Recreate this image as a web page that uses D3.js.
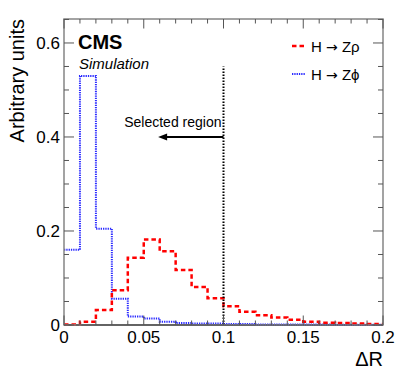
<!DOCTYPE html>
<html>
<head>
<meta charset="utf-8">
<script src="https://cdn.jsdelivr.net/npm/d3@7"></script>
<style>
  body { margin: 0; background: #fff; }
  text { font-family: "Liberation Sans", Arial, Helvetica, sans-serif; }
</style>
</head>
<body>
<svg id="chart"></svg>
<script>
// bin low edges (width 0.01) and normalised contents
var binLow = [0, 0.01, 0.02, 0.03, 0.04, 0.05, 0.06, 0.07, 0.08, 0.09,
              0.10, 0.11, 0.12, 0.13, 0.14, 0.15, 0.16, 0.17, 0.18, 0.19];
var binWidth = 0.01;
var zRho = [0.001, 0.007, 0.032, 0.074, 0.143, 0.182, 0.157, 0.117, 0.081, 0.057,
            0.040, 0.028, 0.021, 0.016, 0.011, 0.007, 0.005, 0.004, 0.003, 0.002];
var zPhi = [0.160, 0.530, 0.205, 0.056, 0.018, 0.014, 0.007, 0.004, 0.003, 0.003,
            0.002, 0.002, 0.001, 0.001, 0.001, 0.001, 0.001, 0.0005, 0.0005, 0.0005];
var xMajor = [0, 0.05, 0.1, 0.15, 0.2];
var xMajorLabels = ["0", "0.05", "0.1", "0.15", "0.2"];
var yMajor = [0, 0.2, 0.4, 0.6];
var yMajorLabels = ["0", "0.2", "0.4", "0.6"];
var cutValue = 0.1;
var cutTop = 0.55;
var arrowY = 0.4;
var arrowTip = 0.059;

var width = 399, height = 383;
var margin = {left: 64, right: 16, top: 19, bottom: 58};
var w = width - margin.left - margin.right;
var h = height - margin.top - margin.bottom;

var x = d3.scaleLinear().domain([0, 0.2]).range([0, w]);
var y = d3.scaleLinear().domain([0, 0.651]).range([h, 0]);

var svg = d3.select("#chart")
  .attr("width", width)
  .attr("height", height);

var g = svg.append("g")
  .attr("transform", "translate(" + margin.left + "," + margin.top + ")");

// histogram as step line
function steps(vals) {
  var pts = binLow.map(function(b, i) { return [b, vals[i]]; });
  pts.push([binLow[binLow.length - 1] + binWidth, vals[vals.length - 1]]);
  return pts;
}
var line = d3.line()
  .x(function(d) { return x(d[0]); })
  .y(function(d) { return y(d[1]); })
  .curve(d3.curveStepAfter);

// baseline at zero
g.append("line")
  .attr("x1", 0).attr("x2", w)
  .attr("y1", y(0)).attr("y2", y(0))
  .attr("stroke", "#000").attr("stroke-width", 2);

g.append("path")
  .datum(steps(zPhi))
  .attr("d", line)
  .attr("fill", "none")
  .attr("stroke", "#2a2aff")
  .attr("stroke-width", 2)
  .attr("stroke-dasharray", "1.3,1");

g.append("path")
  .datum(steps(zRho))
  .attr("d", line)
  .attr("fill", "none")
  .attr("stroke", "#ff0000")
  .attr("stroke-width", 2.5)
  .attr("stroke-dasharray", "4.5,3");

// selection cut
g.append("line")
  .attr("x1", x(cutValue)).attr("x2", x(cutValue))
  .attr("y1", y(0)).attr("y2", y(cutTop))
  .attr("stroke", "#000")
  .attr("stroke-width", 2)
  .attr("stroke-dasharray", "1.6,1.4");

g.append("line")
  .attr("x1", x(cutValue)).attr("x2", x(arrowTip) + 7)
  .attr("y1", y(arrowY)).attr("y2", y(arrowY))
  .attr("stroke", "#000").attr("stroke-width", 2);
g.append("path")
  .attr("d", "M" + x(arrowTip) + "," + y(arrowY) +
             "l9,-3.5l0,7z")
  .attr("fill", "#000");

g.append("text")
  .attr("x", x(cutValue) - 2)
  .attr("y", y(arrowY) - 10)
  .attr("text-anchor", "end")
  .style("font-size", "14px")
  .text("Selected region");

// frame
g.append("rect")
  .attr("x", 0).attr("y", 0)
  .attr("width", w).attr("height", h)
  .attr("fill", "none")
  .attr("stroke", "#858585")
  .attr("stroke-width", 1.5);

// x ticks (inward, bottom and top)
var xMinor = binLow.concat([0.2]);
xMinor.forEach(function(v, i) {
  var len = (i % 5 == 0) ? 9.5 : 4.5;
  g.append("line").attr("x1", x(v)).attr("x2", x(v))
    .attr("y1", h).attr("y2", h - len)
    .attr("stroke", "#555").attr("stroke-width", 1);
  g.append("line").attr("x1", x(v)).attr("x2", x(v))
    .attr("y1", 0).attr("y2", len)
    .attr("stroke", "#555").attr("stroke-width", 1);
});

// y ticks (inward, left and right), minor every 0.05
var yMinor = [0, 0.05, 0.1, 0.15, 0.2, 0.25, 0.3, 0.35, 0.4, 0.45, 0.5, 0.55, 0.6, 0.65];
yMinor.forEach(function(v, i) {
  var len = (i % 4 == 0) ? 10 : 5;
  g.append("line").attr("x1", 0).attr("x2", len)
    .attr("y1", y(v)).attr("y2", y(v))
    .attr("stroke", "#555").attr("stroke-width", 1);
  g.append("line").attr("x1", w).attr("x2", w - len)
    .attr("y1", y(v)).attr("y2", y(v))
    .attr("stroke", "#555").attr("stroke-width", 1);
});

// tick labels
g.selectAll(".xlab").data(xMajor).enter().append("text")
  .attr("class", "xlab")
  .attr("x", function(d) { return x(d); })
  .attr("y", h + 18)
  .attr("text-anchor", "middle")
  .style("font-size", "17px")
  .text(function(d, i) { return xMajorLabels[i]; });

g.selectAll(".ylab").data(yMajor).enter().append("text")
  .attr("class", "ylab")
  .attr("x", -4)
  .attr("y", function(d) { return y(d); })
  .attr("dy", "0.36em")
  .attr("text-anchor", "end")
  .style("font-size", "17px")
  .text(function(d, i) { return yMajorLabels[i]; });

// axis titles
svg.append("text")
  .attr("x", width - margin.right)
  .attr("y", 366)
  .attr("text-anchor", "end")
  .style("font-size", "20px")
  .text("\u0394R");

svg.append("text")
  .attr("transform", "translate(24," + margin.top + ") rotate(-90)")
  .attr("text-anchor", "end")
  .style("font-size", "20px")
  .text("Arbitrary units");

// CMS label
svg.append("text")
  .attr("x", 78).attr("y", 49)
  .style("font-size", "20px")
  .style("font-weight", "bold")
  .text("CMS");
svg.append("text")
  .attr("x", 79).attr("y", 69)
  .style("font-size", "15px")
  .style("font-style", "italic")
  .text("Simulation");

// legend
var legend = [
  {pre: "H ", arrow: "\u2192", post: " Z\u03c1", color: "#ff0000", dash: "4.5,3", sw: 2.5},
  {pre: "H ", arrow: "\u2192", post: " Z\u03d5", color: "#2a2aff", dash: "1.3,1", sw: 2}
];
var lg = svg.selectAll(".legend").data(legend).enter().append("g")
  .attr("class", "legend")
  .attr("transform", function(d, i) { return "translate(292," + (46 + i * 28) + ")"; });
lg.append("line")
  .attr("x1", 0).attr("x2", 13)
  .attr("y1", 0).attr("y2", 0)
  .attr("stroke", function(d) { return d.color; })
  .attr("stroke-width", function(d) { return d.sw; })
  .attr("stroke-dasharray", function(d) { return d.dash; });
var lt = lg.append("text")
  .attr("x", 19).attr("y", 5.5)
  .style("font-size", "15px");
lt.append("tspan").text(function(d) { return d.pre; });
lt.append("tspan")
  .style("font-family", "'DejaVu Sans', sans-serif")
  .style("font-size", "14px")
  .text(function(d) { return d.arrow; });
lt.append("tspan").text(function(d) { return d.post; });
</script>
</body>
</html>
